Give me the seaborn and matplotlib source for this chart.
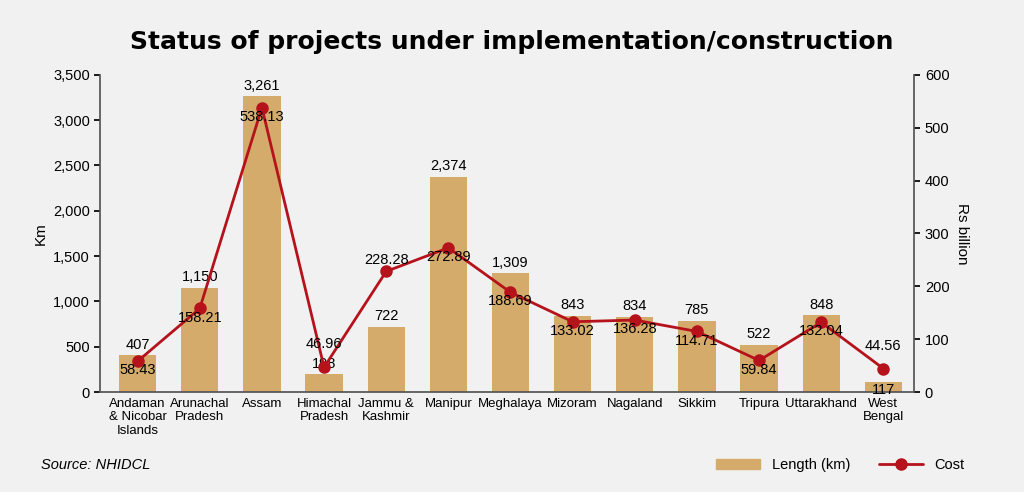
import matplotlib
matplotlib.use("Agg")
import matplotlib.pyplot as plt
import seaborn as sns
import pandas as pd
from matplotlib.ticker import FuncFormatter

states = ["Andaman\n& Nicobar\nIslands", "Arunachal\nPradesh", "Assam", "Himachal\nPradesh",
          "Jammu &\nKashmir", "Manipur", "Meghalaya", "Mizoram", "Nagaland", "Sikkim",
          "Tripura", "Uttarakhand", "West\nBengal"]
length_km = [407, 1150, 3261, 198, 722, 2374, 1309, 843, 834, 785, 522, 848, 117]
cost_bn = [58.43, 158.21, 538.13, 46.96, 228.28, 272.89, 188.69, 133.02, 136.28, 114.71, 59.84, 132.04, 44.56]
cost_above = [False, False, False, True, True, False, False, False, False, False, False, False, True]

bg = "#f1f1f1"
sns.set_theme(style="white")
plt.rcParams['font.family'] = ['Liberation Sans', 'DejaVu Sans']
plt.rcParams['text.color'] = 'black'
plt.rcParams['xtick.color'] = 'black'
plt.rcParams['ytick.color'] = 'black'
fig = plt.figure(figsize=(10.24, 4.92), dpi=100, facecolor=bg)
ax = fig.add_axes([0.098, 0.203, 0.795, 0.645], facecolor=bg)
df = pd.DataFrame({"state": states, "length": length_km, "cost": cost_bn})
sns.barplot(data=df, x="state", y="length", color="#d4ab6b", width=0.6, ax=ax,
            saturation=1, linewidth=0)
ax.set_ylim(0, 3500)
ax.set_yticks(range(0, 3501, 500))
ax.yaxis.set_major_formatter(FuncFormatter(lambda v, p: f"{int(v):,}"))
ax.set_ylabel("Km", fontsize=11, color="black")
ax.set_xlabel("")
ax.tick_params(axis='x', labelsize=9.5, length=0, pad=4)
ax.tick_params(axis='y', labelsize=10.5, left=True, length=4)
for s in ["top", "right"]:
    ax.spines[s].set_visible(False)
for s in ["left", "bottom"]:
    ax.spines[s].set_color("#555555")
for i, v in enumerate(length_km):
    if i == len(length_km) - 1:
        ax.text(i, v - 20, f"{v:,}", ha="center", va="top", fontsize=10.5)
    else:
        ax.text(i, v + 40, f"{v:,}", ha="center", va="bottom", fontsize=10.5)

ax2 = ax.twinx()
ax2.plot(range(len(states)), cost_bn, color="#b5121b", lw=2, marker="o", ms=8)
ax2.set_ylim(0, 600)
ax2.set_yticks(range(0, 601, 100))
ax2.set_ylabel("Rs billion", fontsize=11, rotation=270, labelpad=14, color="black")
ax2.tick_params(axis='y', labelsize=10.5, right=True, length=4)
for s in ["top", "left", "bottom"]:
    ax2.spines[s].set_visible(False)
ax2.spines["right"].set_color("#555555")
for i, v in enumerate(cost_bn):
    if cost_above[i]:
        off = 30 if i in (3, 12) else 8
        ax2.text(i, v + off, f"{v:.2f}", ha="center", va="bottom", fontsize=10.5)
    else:
        ax2.text(i, v - 4, f"{v:.2f}", ha="center", va="top", fontsize=10.5)
ax.set_xlim(-0.6, len(states) - 0.5)

fig.text(0.5, 0.915, "Status of projects under implementation/construction", ha="center",
         va="center", fontsize=18, fontweight="bold", family=["DejaVu Sans"], color="black")
fig.text(0.04, 0.055, "Source: NHIDCL", fontsize=10.5, style="italic", va="center")
from matplotlib.patches import Patch
from matplotlib.lines import Line2D
handles = [Patch(color="#d4ab6b", label="Length (km)"),
           Line2D([0], [0], color="#b5121b", lw=2, marker="o", ms=8, label="Cost")]
fig.legend(handles=handles, loc="center right", bbox_to_anchor=(0.955, 0.055), ncol=2,
           frameon=False, fontsize=10.5, handlelength=3, columnspacing=2)
fig.savefig("out.png", dpi=100, facecolor=bg)
